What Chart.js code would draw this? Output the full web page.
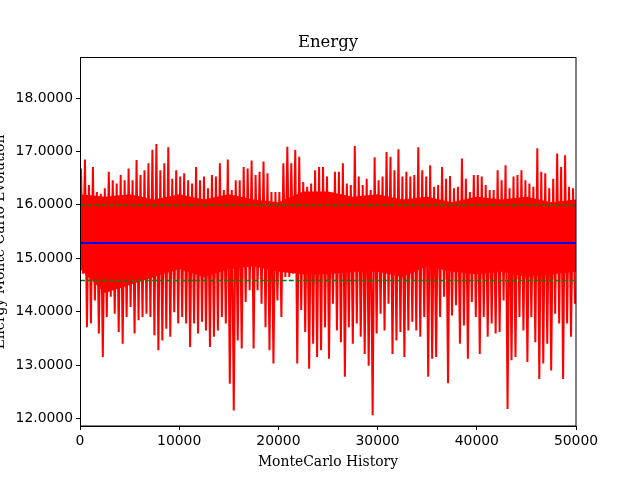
<!DOCTYPE html>
<html>
<head>
<meta charset="utf-8">
<script src="https://cdn.jsdelivr.net/npm/chart.js@4.4.1/dist/chart.umd.min.js"></script>
<style>
  html, body { margin: 0; padding: 0; background: #fff; }
  canvas { display: block; }
</style>
</head>
<body>
<canvas id="chart" width="640" height="480"></canvas>
<script>
// history steps covered by each column of the trace
const columnWidth = 400;
const historyMax = 50000;

// highest / lowest energy seen in each column
const energyHigh = [
  16.68, 16.85, 16.37, 16.71, 16.24, 16.21, 16.31, 16.62, 16.46, 16.40,
  16.56, 16.46, 16.68, 16.46, 16.84, 16.56, 16.65, 16.78, 17.03, 17.14,
  16.65, 16.78, 17.08, 16.49, 16.65, 16.53, 16.59, 16.46, 16.40, 16.71,
  16.46, 16.53, 16.31, 16.56, 16.53, 16.78, 16.28, 16.85, 16.28, 16.46,
  16.46, 16.71, 16.68, 16.83, 16.56, 16.62, 16.81, 16.59, 16.24, 16.24,
  16.24, 16.78, 17.09, 16.78, 17.03, 16.90, 16.43, 16.34, 16.40, 16.65,
  16.71, 16.71, 16.53, 16.15, 16.62, 16.62, 16.78, 16.40, 16.37, 17.10,
  16.53, 16.37, 16.49, 16.28, 16.89, 16.46, 16.53, 16.99, 16.90, 16.65,
  17.04, 16.53, 16.62, 16.53, 16.56, 17.08, 16.65, 16.53, 16.74, 16.34,
  16.37, 16.71, 16.49, 16.54, 16.31, 16.34, 16.87, 16.49, 16.24, 16.56,
  16.56, 16.53, 16.37, 16.28, 16.28, 16.65, 16.46, 16.74, 16.31, 16.53,
  16.56, 16.65, 16.46, 16.40, 16.34, 17.06, 16.62, 16.59, 16.31, 16.49,
  16.96, 16.71, 16.93, 16.34, 16.31
];
const energyLow = [
  14.71, 13.71, 13.78, 14.21, 13.59, 13.15, 13.90, 14.28, 13.96, 13.62,
  13.40, 13.90, 14.09, 13.59, 13.84, 13.90, 13.96, 13.90, 13.56, 13.28,
  13.46, 13.68, 13.53, 13.99, 13.78, 13.90, 13.78, 13.34, 13.78, 13.59,
  13.81, 13.65, 13.34, 13.53, 13.65, 13.90, 13.78, 12.65, 12.15, 13.46,
  13.31, 14.18, 14.40, 13.31, 14.40, 14.15, 13.71, 13.28, 13.03, 14.21,
  13.90, 14.65, 14.65, 14.71, 13.03, 14.03, 13.62, 12.93, 13.40, 13.15,
  13.28, 13.71, 13.12, 14.15, 13.65, 13.43, 12.78, 13.71, 13.40, 13.78,
  13.53, 13.21, 12.99, 12.06, 13.59, 13.96, 13.65, 14.15, 13.21, 13.46,
  13.62, 13.15, 13.65, 13.81, 13.65, 13.53, 13.90, 12.78, 13.12, 13.15,
  13.90, 14.28, 12.66, 13.93, 14.12, 13.40, 13.74, 13.12, 14.18, 13.90,
  13.21, 13.90, 13.53, 13.78, 13.59, 13.62, 14.21, 12.18, 13.09, 13.15,
  13.90, 13.65, 13.06, 13.90, 13.43, 12.74, 13.03, 13.40, 12.90, 13.96,
  13.78, 12.74, 13.78, 13.53, 14.15
];

// edges of the solid part of the trace, every 2500 steps
const coreStep = 2500;
const coreTop = [
  16.20, 16.15, 16.20, 16.10, 16.20, 16.10, 16.20, 16.10, 16.05, 16.25,
  16.25, 16.15, 16.20, 16.10, 16.15, 16.05, 16.15, 16.10, 16.15, 16.05,
  16.10
];
const coreBottom = [
  14.80, 14.35, 14.50, 14.65, 14.80, 14.65, 14.80, 14.85, 14.75, 14.70,
  14.70, 14.75, 14.75, 14.65, 14.85, 14.75, 14.70, 14.75, 14.65, 14.70,
  14.75
];

const meanEnergy = 15.295;
const stdEnergy = 0.695;

const xTicks = [0, 10000, 20000, 30000, 40000, 50000];
const yTicks = [12, 13, 14, 15, 16, 17, 18];
const yMin = 11.86;
const yMax = 18.75;

const serif = '"DejaVu Serif", serif';
const sans = '"DejaVu Sans", sans-serif';

// zig-zag through each column's extremes
const energySeries = [];
energyHigh.forEach((hi, i) => {
  energySeries.push({ x: i * columnWidth + columnWidth * 0.25, y: hi });
  energySeries.push({ x: i * columnWidth + columnWidth * 0.75, y: energyLow[i] });
});

const coreTopPts = coreTop.map((v, i) => ({ x: i * coreStep, y: v }));
const coreBottomPts = coreBottom.map((v, i) => ({ x: i * coreStep, y: v }));

// mean and mean +/- std lines, drawn over the trace
const statLines = {
  id: 'statLines',
  afterDatasetsDraw(chart) {
    const ctx = chart.ctx;
    const a = chart.chartArea;
    const y = chart.scales.y;
    const hline = (v, color, width, dash) => {
      // snap so the line covers whole pixel rows
      let py = Math.round(y.getPixelForValue(v));
      if (Math.round(width) % 2 === 1) py += 0.5;
      ctx.save();
      ctx.strokeStyle = color;
      ctx.lineWidth = width;
      ctx.lineCap = 'butt';
      ctx.setLineDash(dash);
      ctx.beginPath();
      ctx.moveTo(a.left, py);
      ctx.lineTo(a.right, py);
      ctx.stroke();
      ctx.restore();
    };
    hline(meanEnergy + stdEnergy, '#008000', 1.4, [5, 2.2]);
    hline(meanEnergy - stdEnergy, '#008000', 1.4, [5, 2.2]);
    hline(meanEnergy, '#0000ff', 2, []);
  }
};

const textPlugin = {
  id: 'texts',
  afterDraw(chart) {
    const ctx = chart.ctx;
    const a = chart.chartArea;
    ctx.save();
    // frame on all four sides
    ctx.strokeStyle = '#000';
    ctx.lineWidth = 1;
    ctx.strokeRect(Math.round(a.left) + 0.5, Math.round(a.top) - 0.5,
      Math.round(a.right - a.left) - 0.5, Math.round(a.bottom - a.top) + 0.5);

    ctx.fillStyle = '#000';
    ctx.textAlign = 'center';
    ctx.textBaseline = 'middle';
    ctx.font = '16.5px ' + serif;
    ctx.fillText('Energy', (a.left + a.right) / 2, 43);
    ctx.font = '13.9px ' + serif;
    ctx.fillText('MonteCarlo History', (a.left + a.right) / 2, 462);

    ctx.translate(4, (a.top + a.bottom) / 2);
    ctx.rotate(-Math.PI / 2);
    ctx.textBaseline = 'alphabetic';
    ctx.fillText('Energy Monte Carlo Evolution', 0, 0);
    ctx.restore();
  }
};

const chart = new Chart(document.getElementById('chart'), {
  type: 'line',
  data: {
    datasets: [
      {
        data: energySeries,
        borderColor: '#ff0000',
        borderWidth: 2,
      },
      {
        data: coreTopPts,
        borderColor: 'rgba(0,0,0,0)',
        borderWidth: 0,
        backgroundColor: '#ff0000',
        fill: '+1',
      },
      {
        data: coreBottomPts,
        borderColor: 'rgba(0,0,0,0)',
        borderWidth: 0,
      },
    ]
  },
  options: {
    responsive: false,
    animation: false,
    devicePixelRatio: 1,
    parsing: false,
    elements: {
      point: { radius: 0 },
      line: { tension: 0, fill: false },
    },
    layout: { padding: { top: 58, right: 64, left: 0, bottom: 0 } },
    plugins: {
      legend: { display: false },
      tooltip: { enabled: false },
      filler: { drawTime: 'beforeDatasetsDraw' },
    },
    scales: {
      x: {
        type: 'linear',
        min: 0,
        max: historyMax,
        afterBuildTicks: (scale) => { scale.ticks = xTicks.map(v => ({ value: v })); },
        afterFit: (scale) => { scale.height = 54; },
        ticks: {
          color: '#000',
          font: { family: sans, size: 13.9 },
          padding: 3,
          maxRotation: 0,
          callback: (v) => String(v),
        },
        grid: { drawOnChartArea: false, tickLength: 4, color: '#000' },
        border: { color: '#000' },
      },
      y: {
        type: 'linear',
        min: yMin,
        max: yMax,
        afterBuildTicks: (scale) => { scale.ticks = yTicks.map(v => ({ value: v })); },
        afterFit: (scale) => { scale.width = 80; },
        ticks: {
          color: '#000',
          font: { family: sans, size: 13.9 },
          padding: 3,
          callback: (v) => v.toFixed(4),
        },
        grid: { drawOnChartArea: false, tickLength: 4, color: '#000' },
        border: { color: '#000' },
      },
    },
  },
  plugins: [statLines, textPlugin],
});
</script>
</body>
</html>
